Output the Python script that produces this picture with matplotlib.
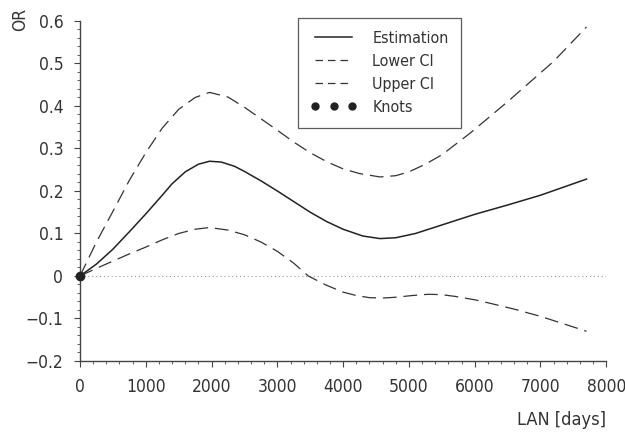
import matplotlib
matplotlib.use("Agg")
from matplotlib import pyplot as plt
from matplotlib.lines import Line2D
from matplotlib.ticker import MultipleLocator
import numpy as np

plt.rcParams['font.family'] = ['DejaVu Sans']
plt.rcParams['font.stretch'] = 'condensed'

# values
est_x = [0, 250, 500, 750, 1000, 1250, 1400, 1600, 1800, 1970, 2150, 2350, 2500,
         2750, 3000, 3250, 3500, 3750, 4000, 4300, 4560, 4800, 5100, 5500, 6000,
         6500, 7000, 7700]
estimation = [0, 0.028, 0.063, 0.104, 0.146, 0.19, 0.217, 0.245, 0.263, 0.27,
              0.268, 0.258, 0.246, 0.224, 0.2, 0.175, 0.15, 0.128, 0.11, 0.094,
              0.088, 0.09, 0.1, 0.12, 0.145, 0.167, 0.19, 0.228]
low_x = [0, 250, 500, 750, 1000, 1250, 1500, 1750, 1970, 2250, 2500, 2750, 3000,
         3250, 3470, 3750, 4000, 4200, 4400, 4600, 4800, 5050, 5300, 5500, 5700,
         6000, 6200, 6600, 7000, 7700]
lower_ci = [0, 0.018, 0.035, 0.052, 0.068, 0.085, 0.1, 0.11, 0.114, 0.108, 0.097,
            0.08, 0.058, 0.03, 0.0, -0.022, -0.038, -0.046, -0.051, -0.052, -0.05,
            -0.046, -0.043, -0.044, -0.048, -0.056, -0.063, -0.078, -0.095, -0.13]
up_x = [0, 250, 500, 750, 1000, 1250, 1500, 1750, 1970, 2250, 2500, 2750, 3000,
        3250, 3500, 3750, 4000, 4250, 4560, 4800, 5000, 5250, 5500, 5930, 6500,
        7200, 7700]
upper_ci = [0, 0.08, 0.152, 0.225, 0.29, 0.348, 0.392, 0.42, 0.432, 0.421, 0.397,
            0.37, 0.343, 0.315, 0.29, 0.269, 0.252, 0.241, 0.233, 0.236, 0.245,
            0.263, 0.285, 0.336, 0.41, 0.505, 0.586]
knots_x = [0]
knots_y = [0]

fig = plt.figure(figsize=(6.25, 4.32), dpi=100)
ax = fig.add_axes([0.128, 0.1644, 0.842, 0.787])

ink = '#222222'
dash_ink = '#333333'
ax.axhline(0, color='#999999', lw=0.8, ls=(0, (1, 2.5)), zorder=1)
ax.plot(est_x, estimation, color=ink, lw=1.1)
ax.plot(low_x, lower_ci, color=dash_ink, lw=0.9, ls=(0, (11, 5.5)))
ax.plot(up_x, upper_ci, color=dash_ink, lw=0.9, ls=(0, (11, 5.5)))
ax.plot(knots_x, knots_y, 'o', color=ink, ms=6, clip_on=False, zorder=5)

ax.set_xlim(0, 8000)
ax.set_ylim(-0.2, 0.6)
ax.xaxis.set_major_locator(MultipleLocator(1000))
ax.xaxis.set_minor_locator(MultipleLocator(200))
ax.yaxis.set_minor_locator(MultipleLocator(0.02))
ax.set_yticks(np.arange(-0.2, 0.61, 0.1))
ax.set_yticklabels(['\u22120.2', '\u22120.1', '0', '0.1', '0.2', '0.3', '0.4', '0.5', '0.6'])

for s in ('top', 'right'):
    ax.spines[s].set_visible(False)
for s in ('left', 'bottom'):
    ax.spines[s].set_color('#444444')
    ax.spines[s].set_linewidth(1.0)

ax.tick_params(which='major', length=4, width=0.8, color='#444444',
               labelsize=12.5, labelcolor='#333333', direction='out')
ax.tick_params(which='minor', length=2, width=0.6, color='#444444', direction='out')
ax.tick_params(axis='y', pad=8)
ax.tick_params(axis='x', pad=8)

fig.text(0.032, 0.955, 'OR', rotation=90, fontsize=12.5, color='#333333',
         ha='center', va='center')
fig.text(0.97, 0.028, 'LAN [days]', fontsize=13, color='#333333',
         ha='right', va='center')

handles = [
    Line2D([], [], color=ink, lw=1.1),
    Line2D([], [], color=dash_ink, lw=0.9, ls=(0, (6, 4))),
    Line2D([], [], color=dash_ink, lw=0.9, ls=(0, (6, 4))),
    Line2D([], [], color=ink, ls='none', marker='o', ms=5),
]
leg = ax.legend(handles, ['Estimation', 'Lower CI', 'Upper CI', 'Knots'],
                loc='upper left', bbox_to_anchor=(0.414, 1.008), fontsize=11.5,
                frameon=True, fancybox=False, edgecolor='#333333', handlelength=2.9,
                handletextpad=0.95, labelspacing=0.5, borderpad=0.8,
                borderaxespad=0, numpoints=3)
leg.get_frame().set_linewidth(0.9)
for t in leg.get_texts():
    t.set_color('#333333')

fig.savefig('out.png', dpi=100)
